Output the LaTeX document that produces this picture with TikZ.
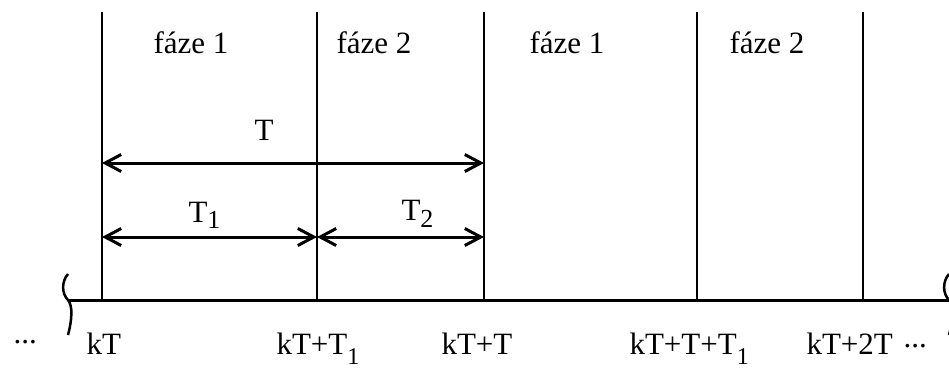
\documentclass[tikz,border=0pt]{standalone}
\usepackage{fontspec}
\setmainfont{Liberation Serif}
\usetikzlibrary{arrows.meta}
\newcommand\lowsub[2]{\raisebox{-#1}{\fontsize{26}{30}\selectfont #2}}
\newcommand\lowsubsm[2]{\raisebox{-#1}{\fontsize{24}{28}\selectfont #2}}
\begin{document}
\begin{tikzpicture}[x=1pt,y=-1pt, line width=3pt,
  lbl/.style={anchor=base west, inner sep=0pt, font=\fontsize{31}{36}\selectfont},
  dimarrow/.style={{Straight Barb[length=16pt,width=17pt]}-{Straight Barb[length=16pt,width=17pt]}},
  breakmark/.style={line width=2.5pt},
  vline/.style={line width=2.6pt},
]
\useasboundingbox (0,0) rectangle (949,367);
% vertical lines
\foreach \i/\x in {1/102,2/317,3/484,4/697,5/863}{
  \coordinate (t\i) at (\x,12);
  \coordinate (b\i) at (\x,300);
  \draw[vline] (t\i) -- (b\i);
}
% axis
\coordinate (axL) at (68,300);
\coordinate (axR) at (949,300);
\draw (axL) -- (axR);
% break marks
\draw[breakmark] (68,274) .. controls (61,282) and (62,294) .. (68,300)
  .. controls (73,306) and (72,320) .. (68,335);
\draw[breakmark] (949,274) .. controls (942,282) and (943,294) .. (949,300)
  .. controls (954,306) and (953,320) .. (949,335);
% dimension arrows
\coordinate (dA1) at (102,163);
\coordinate (dA2) at (484,163);
\draw[dimarrow] (dA1) -- (dA2);
\coordinate (dB1) at (102,237);
\coordinate (dB2) at (317,237);
\coordinate (dB3) at (484,237);
\draw[dimarrow] (dB1) -- (dB2);
\draw[dimarrow] (dB2) -- (dB3);
% labels
\node[lbl] (f1) at (152,53) {fáze 1};
\node[lbl] (f2) at (335,53) {fáze 2};
\node[lbl] (f3) at (528,53) {fáze 1};
\node[lbl] (f4) at (728,53) {fáze 2};
\node[lbl] (lT) at (253,140) {T};
\node[lbl] (lT1) at (187,222) {T\lowsub{6pt}{1}};
\node[lbl] (lT2) at (400,220) {T\lowsub{7pt}{2}};
\node[lbl] (dl) at (12,343) {...};
\node[lbl] (x1) at (85,354) {kT};
\node[lbl] (x2) at (275,354) {kT+T\lowsubsm{10pt}{1}};
\node[lbl] (x3) at (440,354) {kT+T};
\node[lbl] (x4) at (628,354) {kT+T+T\lowsubsm{10pt}{1}};
\node[lbl] (x5) at (805,354) {kT+2T};
\node[lbl] (dr) at (902,347) {...};
\end{tikzpicture}
\end{document}
